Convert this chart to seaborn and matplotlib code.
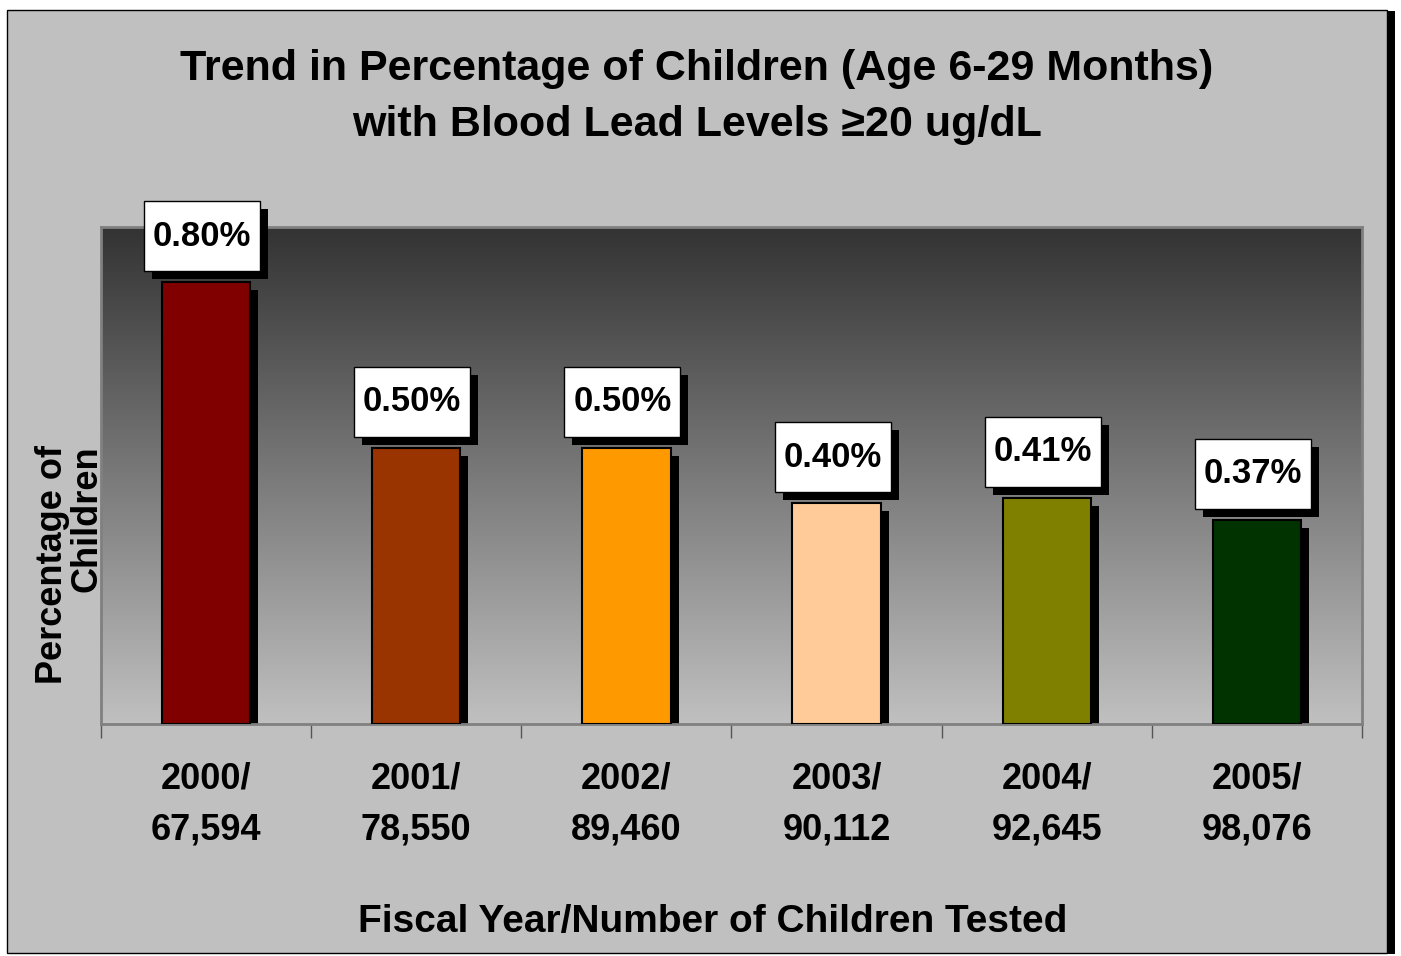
import numpy as np
import matplotlib
matplotlib.use('Agg')
import matplotlib.pyplot as plt
import matplotlib.transforms as mtransforms
from matplotlib.colors import LinearSegmentedColormap
from matplotlib.patches import Rectangle
import seaborn as sns

# data
years = ['2000/\n67,594', '2001/\n78,550', '2002/\n89,460',
         '2003/\n90,112', '2004/\n92,645', '2005/\n98,076']
percent = [0.80, 0.50, 0.50, 0.40, 0.41, 0.37]
bar_colors = ['#800000', '#993300', '#ff9900', '#ffcc99', '#808000', '#003300']

sns.set_style('white')
plt.rcParams['font.family'] = ['Liberation Sans', 'DejaVu Sans']
plt.rcParams['font.weight'] = 'bold'
plt.rcParams['text.color'] = 'black'
plt.rcParams['xtick.color'] = 'black'
plt.rcParams['xtick.labelcolor'] = 'black'

W, H = 1401, 956
fig = plt.figure(figsize=(W / 100, H / 100), dpi=100)
fig.patch.set_facecolor('white')

# outer frame with shadow
fig.patches.append(Rectangle((15 / W, 2 / H), 1380 / W, 943 / H, transform=fig.transFigure,
                             fc='black', ec='none', zorder=-3))
fig.patches.append(Rectangle((7 / W, 3 / H), 1380 / W, 943 / H, transform=fig.transFigure,
                             fc='#c0c0c0', ec='black', lw=1, zorder=-2))

ax = fig.add_axes([101 / W, 1 - 724 / H, 1261 / W, 497 / H])

# gradient background of the plot area
cmap = LinearSegmentedColormap.from_list('bg', ['#c0c0c0', '#333333'])
grad = np.linspace(0, 1, 256)[:, None]
ax.imshow(grad, cmap=cmap, aspect='auto', extent=(0, 1, 0, 1), origin='lower',
          transform=ax.transAxes, zorder=0)

sns.barplot(x=years, y=percent, hue=years, palette=bar_colors, legend=False,
            width=0.42, saturation=1, edgecolor='black', linewidth=1.5, ax=ax, zorder=3)

shadow_tr = mtransforms.ScaledTranslation(8 / 100, -8 / 100, fig.dpi_scale_trans)
for p in list(ax.patches):
    sh = Rectangle(p.get_xy(), p.get_width(), p.get_height(), fc='black', ec='none',
                   transform=ax.transData + shadow_tr, zorder=2)
    ax.add_patch(sh)

ax.set_xlim(-0.5, 5.5)
ax.set_ylim(0, 0.9)

# value labels: white box (pixel sized) with a black drop shadow
for i, v in enumerate(percent):
    anchor = mtransforms.Affine2D() + mtransforms.ScaledTranslation(i, v, ax.transData)
    ax.add_patch(Rectangle((-54, 3), 116, 70, fc='black', ec='none',
                           transform=anchor, zorder=4, clip_on=False))
    ax.add_patch(Rectangle((-62, 11), 116, 70, fc='white', ec='black', lw=1,
                           transform=anchor, zorder=5, clip_on=False))
    ax.annotate(f'{v:.2f}%', xy=(i, v), xytext=(-4, 46), textcoords='offset pixels',
                ha='center', va='center', fontsize=25, color='black', zorder=6,
                annotation_clip=False)

ax.set_yticks([])
ax.set_xticks(range(len(years)))
ax.set_xticklabels(years, fontsize=26, fontweight='bold', linespacing=1.6)
ax.set_xticks(np.arange(-0.5, 6, 1), minor=True)
ax.tick_params(axis='x', which='major', length=0, pad=27)
ax.tick_params(axis='x', which='minor', length=10, width=1, color='#555555', direction='out',
               bottom=True)
for s in ['top', 'left', 'right', 'bottom']:
    ax.spines[s].set_color('#808080')
    ax.spines[s].set_linewidth(2)
ax.set_xlabel('')
ax.set_ylabel('')

fig.text(697 / W, 1 - 97 / H,
         'Trend in Percentage of Children (Age 6-29 Months)\nwith Blood Lead Levels \u226520 ug/dL',
         ha='center', va='center', fontsize=31, fontweight='bold', linespacing=1.5)
fig.text(70 / W, 1 - 565 / H, 'Percentage of\nChildren', rotation=90,
         ha='center', va='center', multialignment='right',
         fontsize=26, fontweight='bold', linespacing=1.0)
fig.text(713 / W, 1 - 922 / H, 'Fiscal Year/Number of Children Tested',
         ha='center', va='center', fontsize=28, fontweight='bold')

fig.savefig('out.png', dpi=100)
